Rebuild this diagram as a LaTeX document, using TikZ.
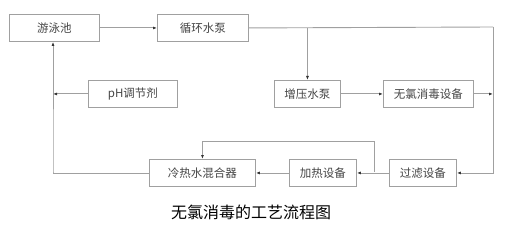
\documentclass[tikz,border=0pt]{standalone}
\usepackage{fontspec}
\setmainfont{Noto Sans CJK SC}
\usetikzlibrary{arrows.meta}
\definecolor{linegray}{HTML}{A0A0A0}
\definecolor{txtgray}{HTML}{444444}
\begin{document}
\begin{tikzpicture}[x=1pt,y=-1pt,
  box/.style={draw=linegray,line width=0.9pt,minimum height=27pt,inner sep=0pt,
    font=\fontsize{11.5}{12}\selectfont,text=txtgray,anchor=north west},
  conn/.style={draw=linegray,line width=0.9pt},
  arr/.style={conn,-{Latex[length=4pt,width=3pt,color=black!80]}}]
\useasboundingbox (0,0) rectangle (529,227);
\node[box,minimum width=90pt] (pool) at (9,14) {游泳池};
\node[box,minimum width=91pt] (pump) at (157,14) {循环水泵};
\node[box,minimum width=66pt] (boost) at (274,80) {增压水泵};
\node[box,minimum width=90pt] (dis) at (383,80) {无氯消毒设备};
\node[box,minimum width=89pt] (ph) at (88,80) {pH调节剂};
\node[box,minimum width=67pt] (filt) at (389,159) {过滤设备};
\node[box,minimum width=67pt] (heat) at (289,159) {加热设备};
\node[box,minimum width=106pt] (mix) at (149,159) {冷热水混合器};
\node[font=\fontsize{16}{18}\selectfont,text=black] (cap) at (251,212) {无氯消毒的工艺流程图};
\coordinate (rc) at (493,27);
\coordinate (lc) at (53,172);
\coordinate (br) at (374,172);
\draw[arr] (pool) -- (pump);
\draw[conn] (pump.east) -- (rc);
\draw[arr] (pump.east -| boost.north) ++(0,0) coordinate (bt) -- (boost.north);
\draw[arr] (boost) -- (dis);
\draw[arr] (dis.east) -- (dis.east -| rc);
\draw[arr] (rc) |- (filt.east);
\draw[arr] (filt) -- (heat);
\draw[arr] (br) -- (br |- 0,141) -| (mix.north);
\draw[arr] (heat) -- (mix);
\draw[arr] (mix.west) -| (lc) -- (lc |- pool.south);
\draw[arr] (ph.west) -- (ph.west -| lc);
\end{tikzpicture}
\end{document}
